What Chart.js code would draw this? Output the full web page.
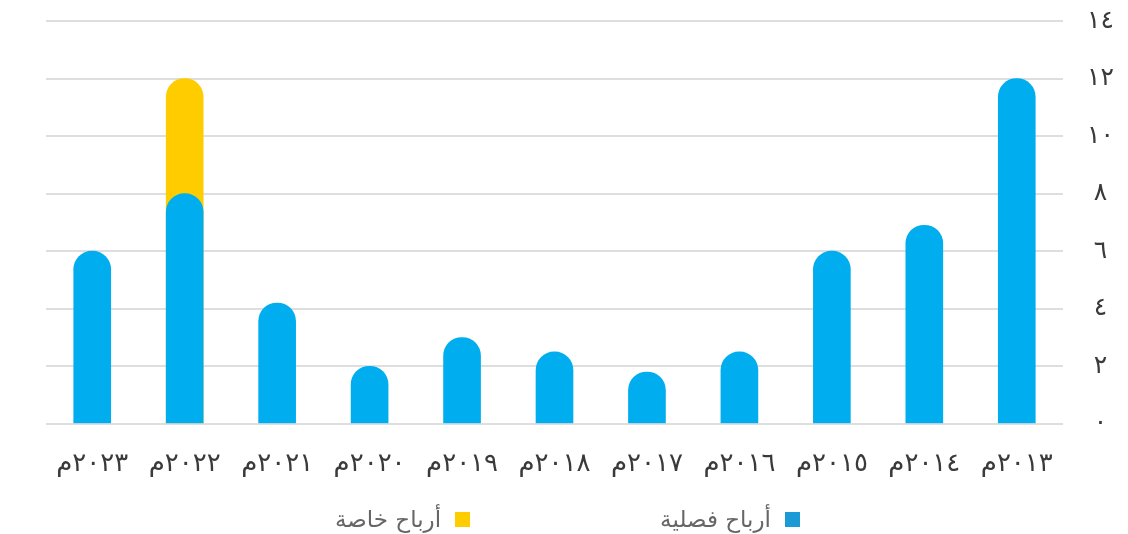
<!DOCTYPE html>
<html lang="ar">
<head>
<meta charset="utf-8">
<script src="https://cdn.jsdelivr.net/npm/chart.js@4/dist/chart.umd.min.js"></script>
<style>
    body { margin: 0; background: #fff; }
    #wrap { position: relative; width: 1128px; height: 534px; }
    canvas { display: block; }
    #legend {
        position: absolute; top: 505px; right: 328px; height: 28px;
        display: flex; direction: rtl; gap: 190px;
        font-family: 'DejaVu Sans', sans-serif; font-size: 23px; color: #666;
    }
    .item { display: flex; align-items: center; gap: 14px; }
    .box { width: 15px; height: 15px; }
</style>
</head>
<body>
<div id="wrap">
    <canvas id="profitsChart" width="1128" height="534"></canvas>
    <div id="legend"></div>
</div>
<script>
// Data
const years = ['٢٠١٣م', '٢٠١٤م', '٢٠١٥م', '٢٠١٦م', '٢٠١٧م', '٢٠١٨م', '٢٠١٩م', '٢٠٢٠م', '٢٠٢١م', '٢٠٢٢م', '٢٠٢٣م'];
const quarterlyProfits = [12, 6.9, 6, 2.5, 1.8, 2.5, 3, 2, 4.2, 8, 6];
const specialProfits = [null, null, null, null, null, null, null, null, null, 4, null];
const yTickLabels = ['٠', '٢', '٤', '٦', '٨', '١٠', '١٢', '١٤'];

const seriesNames = ['أرباح فصلية', 'أرباح خاصة'];
const barColors = ['#00aeef', '#ffcc00'];
const legendColors = ['#1b9ad6', '#ffcc00'];

// special profits sit on top of the quarterly bar, drawn behind it
const specialTotals = quarterlyProfits.map((v, i) => specialProfits[i] == null ? null : v + specialProfits[i]);

const fontFamily = "'DejaVu Sans', sans-serif";

new Chart(document.getElementById('profitsChart'), {
    type: 'bar',
    data: {
        labels: years,
        datasets: [
            {
                label: seriesNames[0],
                data: quarterlyProfits,
                backgroundColor: barColors[0],
                barThickness: 37,
                borderRadius: 20,
                grouped: false
            },
            {
                label: seriesNames[1],
                data: specialTotals,
                backgroundColor: barColors[1],
                barThickness: 37,
                borderRadius: 20,
                grouped: false
            }
        ]
    },
    options: {
        responsive: false,
        animation: false,
        layout: {
            padding: { left: 46, top: 21, right: 0, bottom: 29 }
        },
        plugins: {
            legend: { display: false },
            tooltip: { enabled: false }
        },
        scales: {
            x: {
                reverse: true,
                grid: { display: false, drawTicks: false },
                border: { display: false },
                ticks: {
                    color: '#3a3a3a',
                    padding: 25,
                    maxRotation: 0,
                    font: { family: fontFamily, size: 26 }
                }
            },
            y: {
                position: 'right',
                min: 0,
                max: 14,
                // invisible tick marks push the labels away from the plot
                grid: { color: '#dedede', lineWidth: 2, drawTicks: true, tickLength: 24, tickColor: 'rgba(0,0,0,0)' },
                border: { display: false },
                afterFit: (scale) => { scale.width = 65; },
                ticks: {
                    stepSize: 2,
                    color: '#3a3a3a',
                    padding: 0,
                    crossAlign: 'center',
                    font: { family: fontFamily, size: 25 },
                    callback: (value) => yTickLabels[value / 2]
                }
            }
        }
    }
});

// Legend
const legendEl = document.getElementById('legend');
seriesNames.forEach((name, i) => {
    const item = document.createElement('div');
    item.className = 'item';
    item.innerHTML = '<span class="box" style="background:' + legendColors[i] + '"></span><span>' + name + '</span>';
    legendEl.appendChild(item);
});
</script>
</body>
</html>
